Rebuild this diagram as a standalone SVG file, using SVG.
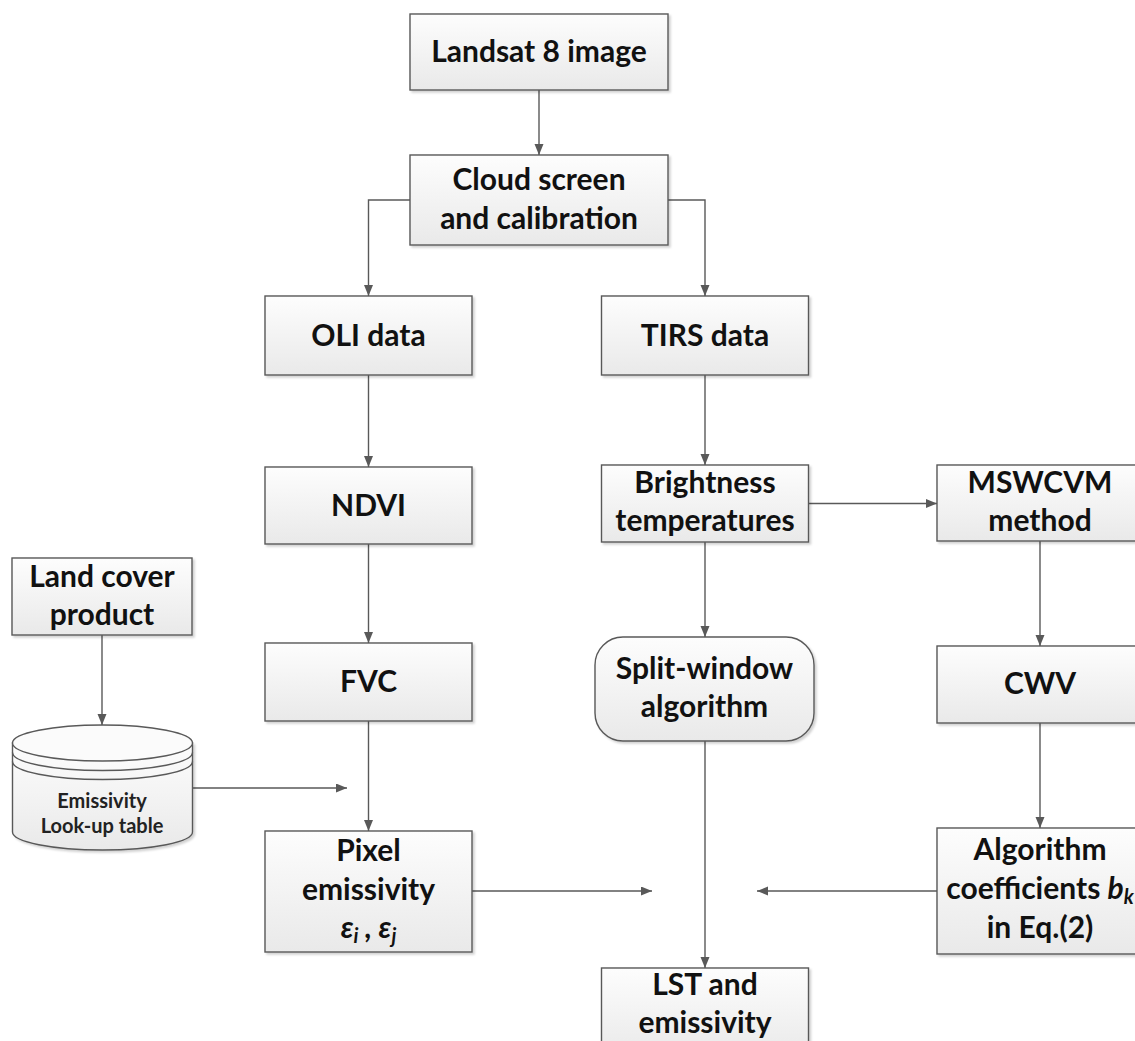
<svg xmlns="http://www.w3.org/2000/svg" width="1135" height="1041" viewBox="0 0 1135 1041">
<style>
.box{fill:url(#g);stroke:#595959;stroke-width:1.4;filter:url(#sh)}
.line{stroke:#595959;stroke-width:1.4;fill:none}
.arr{marker-end:url(#ah)}
text{font-family:Lato,"Open Sans","Liberation Sans",sans-serif;font-weight:700;font-size:30px;fill:#111;text-anchor:middle}
.small{font-size:20px;fill:#222}
.it{font-style:italic}
</style>
<defs>
<linearGradient id="g" x1="0" y1="0" x2="0" y2="1">
<stop offset="0" stop-color="#fdfdfd"/>
<stop offset="1" stop-color="#e9e9e9"/>
</linearGradient>
<filter id="sh" x="-10%" y="-10%" width="125%" height="130%">
<feDropShadow dx="2" dy="2" stdDeviation="1" flood-color="#000" flood-opacity="0.18"/>
</filter>
<marker id="ah" markerUnits="userSpaceOnUse" markerWidth="12" markerHeight="10" refX="11" refY="4.5" orient="auto">
<path d="M0,0 L11,4.5 L0,9 z" fill="#595959"/>
</marker>
</defs>
<rect width="1135" height="1041" fill="#fff"/>

<g id="connectors">
<path class="line arr" d="M539,90 V155"/>
<path class="line arr" d="M410,200 H368.5 V296"/>
<path class="line arr" d="M668,200 H705 V296"/>
<path class="line arr" d="M368.5,375 V467"/>
<path class="line arr" d="M368.5,544 V643"/>
<path class="line arr" d="M368.5,721 V831"/>
<path class="line arr" d="M705,375 V465"/>
<path class="line arr" d="M808.5,503.5 H937"/>
<path class="line arr" d="M705,542 V637"/>
<path class="line arr" d="M1040,541 V646"/>
<path class="line arr" d="M1040,723 V828"/>
<path class="line arr" d="M705,741 V968"/>
<path class="line arr" d="M102,635 V725"/>
<path class="line arr" d="M193,788 H347"/>
<path class="line arr" d="M472,891 H652"/>
<path class="line arr" d="M937,891 H757"/>
</g>

<g id="landsat">
<rect class="box" x="410" y="14" width="258" height="76"/>
<text x="539" y="62">Landsat 8 image</text>
</g>
<g id="cloud">
<rect class="box" x="410" y="155" width="258" height="90"/>
<text x="539" y="190">Cloud screen</text>
<text x="539" y="229">and calibration</text>
</g>
<g id="oli">
<rect class="box" x="265" y="296" width="207" height="79"/>
<text x="368.5" y="346">OLI data</text>
</g>
<g id="tirs">
<rect class="box" x="601.5" y="296" width="207" height="79"/>
<text x="705" y="346">TIRS data</text>
</g>
<g id="ndvi">
<rect class="box" x="265" y="467" width="207" height="77"/>
<text x="368.5" y="516">NDVI</text>
</g>
<g id="brightness">
<rect class="box" x="601.5" y="465" width="207" height="77"/>
<text x="705" y="493">Brightness</text>
<text x="705" y="531">temperatures</text>
</g>
<g id="mswcvm">
<rect class="box" x="937" y="465" width="207" height="76"/>
<text x="1040" y="493">MSWCVM</text>
<text x="1040" y="531">method</text>
</g>
<g id="landcover">
<rect class="box" x="12" y="558" width="180" height="77"/>
<text x="102" y="587">Land cover</text>
<text x="102" y="625">product</text>
</g>
<g id="fvc">
<rect class="box" x="265" y="643" width="207" height="78"/>
<text x="368.5" y="692">FVC</text>
</g>
<g id="splitwindow">
<rect class="box" x="595" y="637" width="219" height="104" rx="28" ry="28"/>
<text x="704.5" y="679">Split-window</text>
<text x="704.5" y="717">algorithm</text>
</g>
<g id="cwv">
<rect class="box" x="937" y="646" width="207" height="77"/>
<text x="1040" y="694">CWV</text>
</g>
<g id="lookup">
<path d="M12.5,743 V832 A90,18 0 0 0 192.5,832 V743 Z" fill="url(#g)" stroke="#595959" stroke-width="1.4" filter="url(#sh)"/>
<ellipse cx="102.5" cy="743" rx="90" ry="18" fill="#fbfbfb" stroke="#595959" stroke-width="1.4"/>
<path class="line" d="M12.5,752.5 A90,18 0 0 0 192.5,752.5"/>
<path class="line" d="M12.5,761.5 A90,18 0 0 0 192.5,761.5"/>
<text class="small" x="102" y="808">Emissivity</text>
<text class="small" x="102" y="833">Look-up table</text>
</g>
<g id="pixel">
<rect class="box" x="265" y="831" width="207" height="121"/>
<text x="368.5" y="861">Pixel</text>
<text x="368.5" y="900">emissivity</text>
<text x="368.5" y="938" class="it">ε<tspan font-size="20" dy="5">i</tspan><tspan dy="-5"> , ε</tspan><tspan font-size="20" dy="5">j</tspan></text>
</g>
<g id="algorithm">
<rect class="box" x="937" y="828" width="207" height="126"/>
<text x="1040" y="860">Algorithm</text>
<text x="1040" y="899">coefficients <tspan class="it">b</tspan><tspan class="it" font-size="20" dy="5">k</tspan></text>
<text x="1040" y="938">in Eq.(2)</text>
</g>
<g id="lst">
<rect class="box" x="601.5" y="968" width="207" height="90"/>
<text x="705" y="995">LST and</text>
<text x="705" y="1033">emissivity</text>
</g>
</svg>
